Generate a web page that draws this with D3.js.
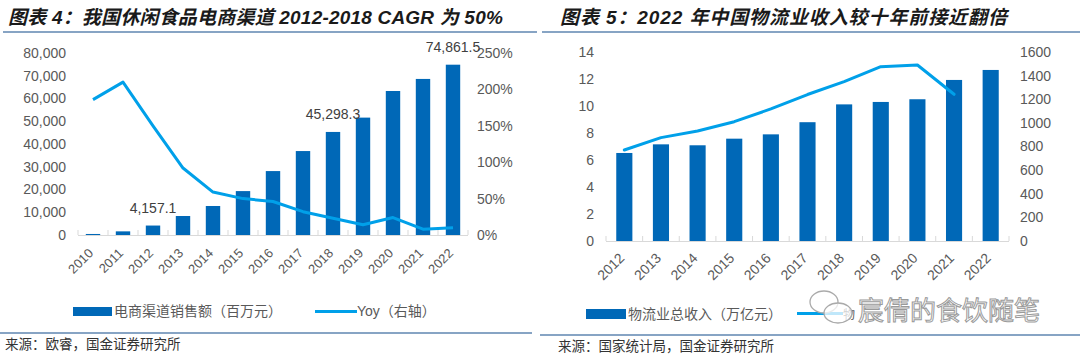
<!DOCTYPE html>
<html><head><meta charset="utf-8">
<script src="https://cdn.jsdelivr.net/npm/d3@7"></script>
<style>
body{margin:0;background:#fff;}
svg{display:block;}
text{font-family:"Liberation Sans","Noto Sans CJK SC",sans-serif;}
</style></head><body>
<svg id="c" width="1080" height="356"></svg>
<script>
// ---- Left chart data ----
const yearsL = ["2010","2011","2012","2013","2014","2015","2016","2017","2018","2019","2020","2021","2022"];
const salesL = [450, 1600, 4157.1, 8350, 12750, 19300, 28100, 36900, 45298.3, 51600, 63300, 68600, 74861.5];
const yoyL = [1.86, 2.10, 1.50, 0.92, 0.59, 0.50, 0.46, 0.32, 0.23, 0.14, 0.24, 0.08, 0.10];
const labeledL = ["2012","2018","2022"];
const leftTicksL = [0,10000,20000,30000,40000,50000,60000,70000,80000];
const rightTicksL = [0,0.5,1,1.5,2,2.5];
const titleL = "图表 4：我国休闲食品电商渠道 2012-2018 CAGR 为 50%";
const legendL = ["电商渠道销售额（百万元）","Yoy（右轴）"];
const sourceL = "来源：欧睿，国金证券研究所";

// ---- Right chart data ----
const yearsR = ["2012","2013","2014","2015","2016","2017","2018","2019","2020","2021","2022"];
const revenueR = [6.52, 7.16, 7.09, 7.58, 7.9, 8.8, 10.12, 10.3, 10.5, 11.93, 12.67];
const lineR = [770, 875, 931, 1010, 1118, 1240, 1349, 1476, 1490, 1242, null];
const leftTicksR = [0,2,4,6,8,10,12,14];
const rightTicksR = [0,200,400,600,800,1000,1200,1400,1600];
const titleR = "图表 5：2022 年中国物流业收入较十年前接近翻倍";
const legendR = ["物流业总收入（万亿元）","物"];
const sourceR = "来源：国家统计局，国金证券研究所";
const watermark = "宸倩的食饮随笔";

const BAR = "#0068b7", LINE = "#00a0e9", TXT = "#595959", AX = "#d9d9d9", RULE = "#5f86b0";
const svg = d3.select("#c");

function header(g, x0, x1, title, tx, ls){
  g.append("text").attr("x", tx).attr("y", 24).attr("font-size", 19).attr("font-weight", "bold")
    .attr("font-style", "italic").attr("letter-spacing", ls).attr("fill", "#1a1a1a").text(title);
  g.append("line").attr("x1", x0).attr("x2", x1).attr("y1", 32).attr("y2", 32)
    .attr("stroke", RULE).attr("stroke-width", 1.5);
}
function footer(g, x0, x1, y, src, sx){
  g.append("line").attr("x1", x0).attr("x2", x1).attr("y1", y).attr("y2", y)
    .attr("stroke", RULE).attr("stroke-width", 1.5);
  g.append("text").attr("x", sx).attr("y", y + 16).attr("font-size", 13.5).attr("fill", "#333")
    .attr("font-family", "Noto Sans CJK SC").text(src);
}

// ===== Left chart =====
(function(){
  const g = svg.append("g");
  header(g, 3, 537, titleL, 8, 0.2);
  const x = d3.scaleBand().domain(yearsL).range([78, 468]).paddingInner(0.52).paddingOuter(0.26);
  const y = d3.scaleLinear().domain([0, 80000]).range([235, 53]);
  const y2 = d3.scaleLinear().domain([0, 2.5]).range([235, 53]);
  const ya = g.append("g").attr("transform", "translate(78,0)")
    .call(d3.axisLeft(y).tickValues(leftTicksL).tickSize(0).tickPadding(12).tickFormat(d3.format(",")));
  ya.select(".domain").remove();
  const yb = g.append("g").attr("transform", "translate(468,0)")
    .call(d3.axisRight(y2).tickValues(rightTicksL).tickSize(0).tickPadding(9).tickFormat(d3.format(".0%")));
  yb.select(".domain").remove();
  [ya, yb].forEach(a => a.selectAll("text").attr("font-size", 14).attr("fill", TXT)
    .attr("font-family", "Liberation Sans"));
  // x axis
  const xb = d3.scaleBand().domain(yearsL).range([78, 468]);
  g.append("line").attr("x1", 78).attr("x2", 468).attr("y1", 235.5).attr("y2", 235.5).attr("stroke", AX);
  g.selectAll(".tk").data(d3.range(yearsL.length + 1)).join("line")
    .attr("x1", i => 78 + i * xb.step()).attr("x2", i => 78 + i * xb.step())
    .attr("y1", 230).attr("y2", 235).attr("stroke", AX);
  g.selectAll(".bar").data(yearsL).join("rect")
    .attr("x", d => x(d)).attr("width", x.bandwidth())
    .attr("y", (d, i) => y(salesL[i])).attr("height", (d, i) => 235 - y(salesL[i])).attr("fill", BAR);
  g.selectAll(".xl").data(yearsL).join("text")
    .attr("transform", d => `translate(${x(d) + x.bandwidth() / 2 + 1},254) rotate(-45)`)
    .attr("text-anchor", "end").attr("font-size", 13).attr("fill", TXT).text(d => d);
  g.append("path").datum(yoyL).attr("fill", "none").attr("stroke", LINE).attr("stroke-width", 3)
    .attr("stroke-linejoin", "round")
    .attr("d", d3.line().x((d, i) => x(yearsL[i]) + x.bandwidth() / 2).y(d => y2(d)));
  g.selectAll(".vl").data(labeledL).join("text")
    .attr("x", d => x(d) + x.bandwidth() / 2).attr("y", d => y(salesL[yearsL.indexOf(d)]) - 13)
    .attr("text-anchor", "middle").attr("font-size", 14).attr("fill", "#404040")
    .text(d => d3.format(",.1f")(salesL[yearsL.indexOf(d)]));
  // legend
  g.append("rect").attr("x", 73).attr("y", 307).attr("width", 39).attr("height", 9).attr("fill", BAR);
  g.append("text").attr("x", 114).attr("y", 316).attr("font-size", 14).attr("fill", TXT).text(legendL[0]);
  g.append("line").attr("x1", 315).attr("x2", 357).attr("y1", 311.5).attr("y2", 311.5).attr("stroke", LINE).attr("stroke-width", 3);
  g.append("text").attr("x", 357).attr("y", 316).attr("font-size", 14).attr("fill", TXT).text(legendL[1]);
  footer(g, 0, 532, 333, sourceL, 5);
})();

// ===== Right chart =====
(function(){
  const g = svg.append("g");
  header(g, 542, 1080, titleR, 560, 0.9);
  const x = d3.scaleBand().domain(yearsR).range([606, 1009]).paddingInner(0.56).paddingOuter(0.28);
  const xb = d3.scaleBand().domain(yearsR).range([606, 1009]);
  const y = d3.scaleLinear().domain([0, 14]).range([241, 52]);
  const y2 = d3.scaleLinear().domain([0, 1600]).range([241, 52]);
  const ya = g.append("g").attr("transform", "translate(606,0)")
    .call(d3.axisLeft(y).tickValues(leftTicksR).tickSize(0).tickPadding(12));
  ya.select(".domain").remove();
  const yb = g.append("g").attr("transform", "translate(1009,0)")
    .call(d3.axisRight(y2).tickValues(rightTicksR).tickSize(0).tickPadding(11).tickFormat(d3.format("d")));
  yb.select(".domain").remove();
  [ya, yb].forEach(a => a.selectAll("text").attr("font-size", 14).attr("fill", TXT)
    .attr("font-family", "Liberation Sans"));
  g.append("line").attr("x1", 606).attr("x2", 1009).attr("y1", 241.5).attr("y2", 241.5).attr("stroke", AX);
  g.selectAll(".tk").data(d3.range(yearsR.length + 1)).join("line")
    .attr("x1", i => 606 + i * xb.step()).attr("x2", i => 606 + i * xb.step())
    .attr("y1", 236).attr("y2", 241).attr("stroke", AX);
  g.selectAll(".bar").data(yearsR).join("rect")
    .attr("x", d => x(d)).attr("width", x.bandwidth())
    .attr("y", (d, i) => y(revenueR[i])).attr("height", (d, i) => 241 - y(revenueR[i])).attr("fill", BAR);
  g.selectAll(".xl").data(yearsR).join("text")
    .attr("transform", d => `translate(${x(d) + x.bandwidth() / 2 + 1},259) rotate(-45)`)
    .attr("text-anchor", "end").attr("font-size", 14).attr("fill", TXT).text(d => d);
  g.append("path").datum(lineR).attr("fill", "none").attr("stroke", LINE).attr("stroke-width", 3)
    .attr("stroke-linejoin", "round").attr("stroke-linecap", "round")
    .attr("d", d3.line().defined(d => d != null).x((d, i) => x(yearsR[i]) + x.bandwidth() / 2).y(d => y2(d)));
  // legend
  g.append("rect").attr("x", 586).attr("y", 309).attr("width", 40).attr("height", 10).attr("fill", BAR);
  g.append("text").attr("x", 628).attr("y", 319).attr("font-size", 14).attr("fill", TXT).text(legendR[0]);
  g.append("line").attr("x1", 797).attr("x2", 843).attr("y1", 313.5).attr("y2", 313.5).attr("stroke", LINE).attr("stroke-width", 3);
  g.append("text").attr("x", 843).attr("y", 319).attr("font-size", 12).attr("fill", TXT).text(legendR[1]);
  // watermark (wechat-style icon + name)
  const w = g.append("g");
  w.append("ellipse").attr("cx", 824).attr("cy", 302).attr("rx", 14).attr("ry", 11)
    .attr("fill", "#fff").attr("fill-opacity", 0.75).attr("stroke", "#aaa").attr("stroke-width", 1.3);
  w.append("ellipse").attr("cx", 838).attr("cy", 313).attr("rx", 14).attr("ry", 10)
    .attr("fill", "#fff").attr("fill-opacity", 0.75).attr("stroke", "#aaa").attr("stroke-width", 1.3);
  w.append("text").attr("x", 858).attr("y", 320).attr("font-size", 26).attr("fill", "#fff")
    .attr("stroke", "#9a9a9a").attr("stroke-width", 1).attr("font-family", "Noto Sans CJK SC").text(watermark);
  footer(g, 540, 1080, 335, sourceR, 558);
})();
</script>
</body></html>
